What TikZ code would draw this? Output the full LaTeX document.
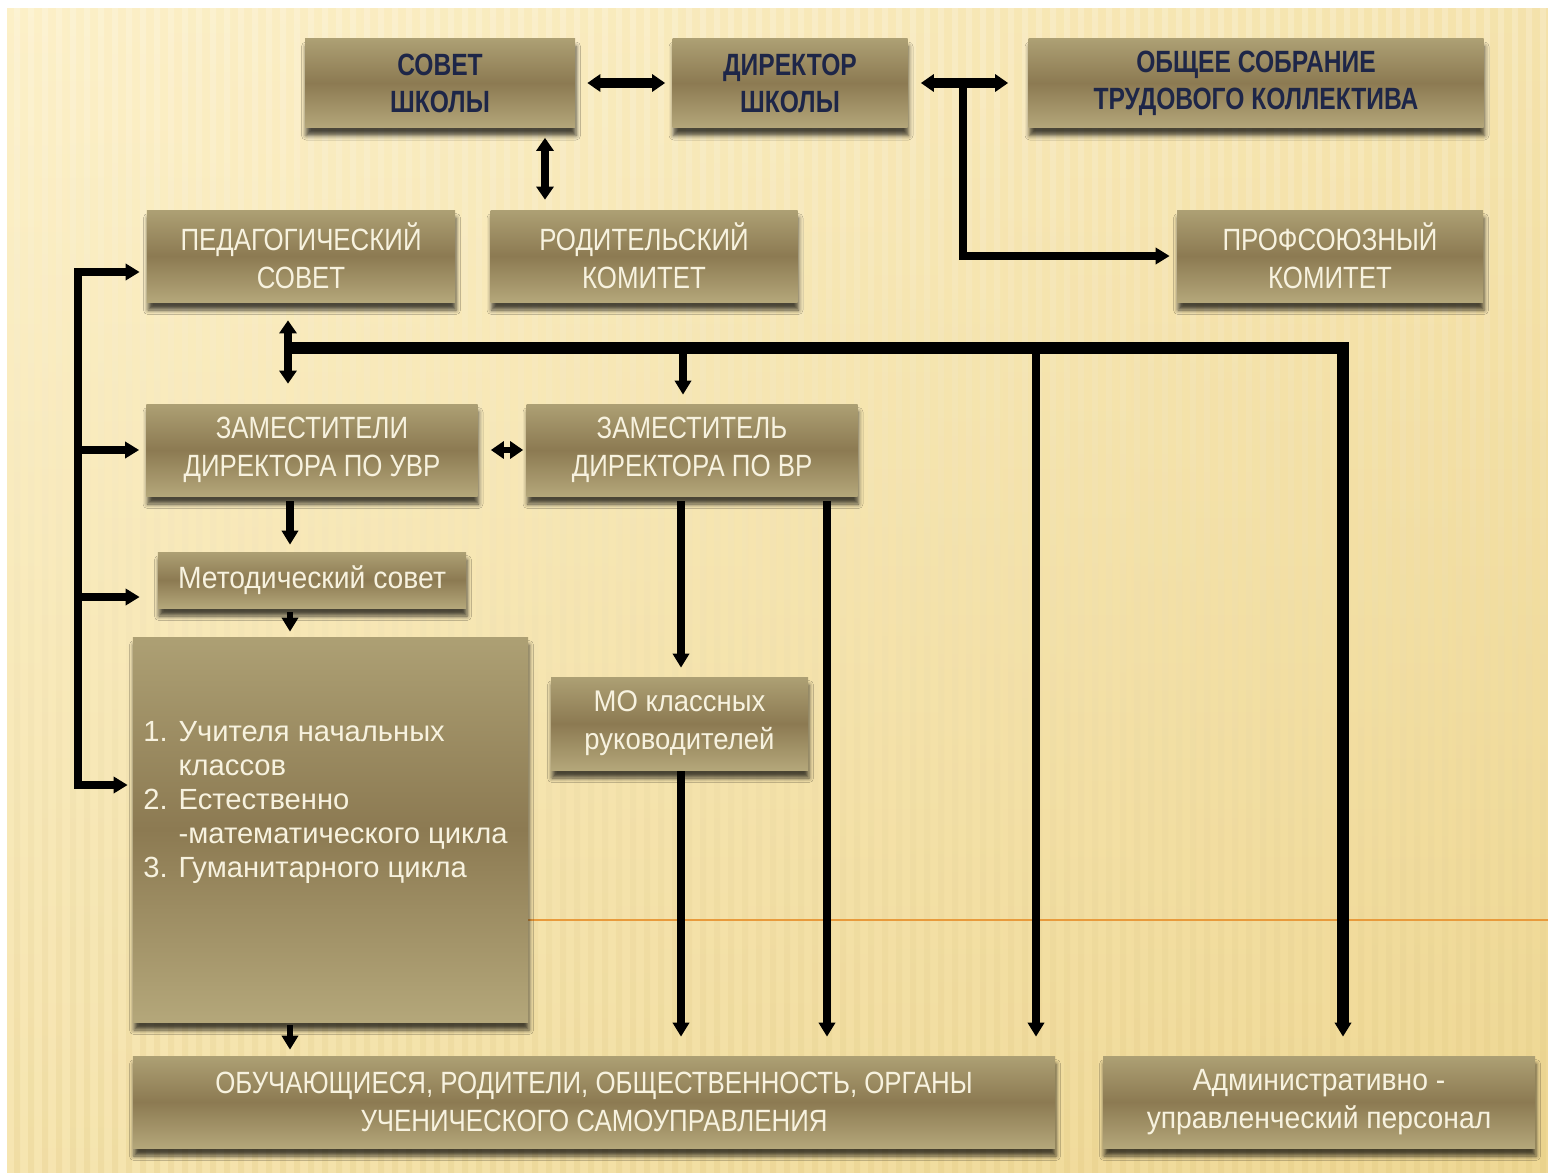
\documentclass[tikz,border=0pt]{standalone}
\usepackage{fontspec}
\setmainfont{Liberation Sans}
\newfontfamily\capsfont[FakeStretch=0.84]{Liberation Sans}
\newfontfamily\boldcaps[FakeStretch=0.8]{Liberation Sans Bold}
\newfontfamily\wordfont[FakeStretch=0.92]{Liberation Sans}
\usetikzlibrary{arrows.meta,shadows.blur,calc}
\definecolor{bgpale}{HTML}{FCF0C8}
\definecolor{bggold}{HTML}{EFD894}
\definecolor{stripe}{HTML}{D9BF72}
\definecolor{boxtop}{HTML}{ADA074}
\definecolor{boxmid}{HTML}{8C7A52}
\definecolor{boxbot}{HTML}{B4A77A}
\definecolor{navy}{HTML}{1E2648}
\definecolor{cream}{HTML}{F7F2DF}
\definecolor{rule}{HTML}{E89A3C}

\tikzset{
  panel/.style = {rectangle, inner sep=0pt, align=center,
                  top color=boxtop, bottom color=boxbot, middle color=boxmid,
                  blur shadow={shadow xshift=0.2mm, shadow yshift=-1.6mm,
                               shadow blur radius=0.9mm, shadow opacity=70}},
  heading/.style = {panel, text=navy, font=\boldcaps\fontsize{17.5}{21}\selectfont},
  office/.style = {panel, text=cream, font=\capsfont\fontsize{17.5}{21.5}\selectfont},
  crowd/.style = {panel, text=cream, font=\capsfont\fontsize{17.5}{21.5}\selectfont},
  link/.style = {line width=4.6pt, draw=black, line cap=rect},
  tip/.style = {link, -{Triangle[length=2.8mm, width=3.2mm]}},
  tips/.style = {link, {Triangle[length=2.6mm, width=3.4mm]}-{Triangle[length=2.6mm, width=3.4mm]}}
}

\begin{document}
\begin{tikzpicture}[x=0.2mm, y=-0.2mm]
  \useasboundingbox (0,0) rectangle (1548,1172);
  % background of the slide
  \fill[white] (0,0) rectangle (1548,1172);
  \shade[left color=bgpale, right color=bggold] (7,8) rectangle (1548,1172);
  \shade[top color=bgpale, bottom color=bggold, opacity=0.45] (7,8) rectangle (1548,1172);
  \foreach \s in {14,28,...,1540}
    \shade[top color=stripe!0, bottom color=stripe, opacity=0.2] (\s,8) rectangle (\s+6,1172);
  \draw[rule, line width=0.8pt] (528,920) -- (1548,920);

  % top row
  \node[heading, minimum width=54mm, minimum height=17.8mm] (sovet) at (440,83) {СОВЕТ\\ШКОЛЫ};
  \node[heading, minimum width=47mm, minimum height=17.8mm] (direktor) at (790,83) {ДИРЕКТОР\\ШКОЛЫ};
  \node[heading, minimum width=91mm, minimum height=17.8mm] (sobranie) at (1256,83) {ОБЩЕЕ СОБРАНИЕ\\ТРУДОВОГО КОЛЛЕКТИВА};

  % councils
  \node[office, minimum width=61.6mm, minimum height=18.4mm] (pedsovet) at (301,256) {ПЕДАГОГИЧЕСКИЙ\\СОВЕТ};
  \node[office, minimum width=61.4mm, minimum height=18.4mm] (rodkom) at (644,256) {РОДИТЕЛЬСКИЙ\\КОМИТЕТ};
  \node[office, minimum width=61.2mm, minimum height=18.4mm] (profkom) at (1330,256) {ПРОФСОЮЗНЫЙ\\КОМИТЕТ};

  % deputies
  \node[office, minimum width=66.2mm, minimum height=18.4mm] (zamuvr) at (312,450) {ЗАМЕСТИТЕЛИ\\ДИРЕКТОРА ПО УВР};
  \node[office, minimum width=66.2mm, minimum height=18.4mm] (zamvr) at (692,450) {ЗАМЕСТИТЕЛЬ\\ДИРЕКТОРА ПО ВР};
  \node[office, font=\wordfont\fontsize{17.5}{21.5}\selectfont,
        minimum width=61.6mm, minimum height=11.2mm] (metod) at (312,580) {Методический совет};
  \node[panel, text=cream, minimum width=79mm, minimum height=77mm,
        font=\fontsize{16.6}{19.3}\selectfont] (groups) at (330.5,829.5)
        {\raisebox{5.4mm}[\height][\depth]{\begin{tabular}{@{}l@{ }l@{}}
          1. & Учителя начальных\\
             & классов\\
          2. & Естественно\\
             & -математического цикла\\
          3. & Гуманитарного цикла
        \end{tabular}}\hspace*{2mm}};
  \node[office, font=\wordfont\fontsize{17}{21.5}\selectfont,
        minimum width=51.4mm, minimum height=18.6mm] (mo) at (679.5,723.5) {МО классных\\руководителей};

  % bottom row
  \node[crowd, minimum width=184.4mm, minimum height=18.4mm] (obuch) at (594,1102)
        {ОБУЧАЮЩИЕСЯ, РОДИТЕЛИ, ОБЩЕСТВЕННОСТЬ, ОРГАНЫ\\УЧЕНИЧЕСКОГО САМОУПРАВЛЕНИЯ};
  \node[crowd, font=\wordfont\fontsize{17.5}{21.5}\selectfont,
        minimum width=86.4mm, minimum height=18.4mm] (admin) at (1319,1102)
        {Административно -\\управленческий персонал};

  % named points of the connectors
  \coordinate (tee) at (963,83);
  \coordinate (sr) at (545,0);
  \coordinate (lb1) at (78,272);
  \coordinate (lb2) at (78,450);
  \coordinate (lb3) at (78,597);
  \coordinate (lb4) at (78,785);
  \coordinate (pz) at (288,348);
  \coordinate (b1) at (683,348);
  \coordinate (b2) at (1036,348);
  \coordinate (b3) at (1343,348);
  \coordinate (c1) at (290,0);
  \coordinate (c2) at (681,0);
  \coordinate (c3) at (827,0);

  % top connectors
  \draw[tips, line width=6pt, shorten <=2.4mm, shorten >=1.4mm] (sovet.east) -- (direktor.west);
  \draw[tips, line width=6pt, shorten <=2.6mm, shorten >=4mm] (direktor.east) -- (sobranie.west);
  \draw[tip, shorten >=1.4mm] (tee) |- (profkom.west);
  \draw[tips, shorten <=2mm, shorten >=2mm] (sovet.south -| sr) -- (rodkom.north -| sr);

  % left spine
  \draw[tip, shorten >=1.4mm] (lb4) -- (lb1) -- (lb1 -| pedsovet.west);
  \draw[tip, shorten >=1.4mm] (lb2) -- (lb2 -| zamuvr.west);
  \draw[tip, shorten >=3.6mm] (lb3) -- (lb3 -| metod.west);
  \draw[tip, shorten >=1mm] (lb4) -- (lb4 -| groups.west);

  % bus under the pedagogical council
  \draw[tips, shorten <=3.6mm, shorten >=4mm] (pedsovet.south -| pz) -- (zamuvr.north -| pz);
  \draw[tip, line width=6.5pt, line cap=butt, shorten >=3.8mm] (pz) -- (b3) -- (b3 |- admin.north);
  \draw[tip, shorten >=3.8mm] (b2) -- (b2 |- obuch.north);
  \draw[tip, shorten >=1.8mm] (b1) -- (b1 |- zamvr.north);

  % deputies and below
  \draw[tips, line width=3.8pt, shorten <=2.6mm, shorten >=0.6mm] (zamuvr.east) -- (zamvr.west);
  \draw[tip, shorten <=1.8mm, shorten >=1.4mm] (zamuvr.south -| c1) -- (metod.north -| c1);
  \draw[tip, line width=3.6pt, shorten <=1.4mm, shorten >=1mm] (metod.south -| c1) -- (groups.north -| c1);
  \draw[tip, line width=3.6pt, shorten <=1.2mm, shorten >=1.2mm] (groups.south -| c1) -- (obuch.north -| c1);
  \draw[tip, shorten <=1.8mm, shorten >=1.8mm] (zamvr.south -| c2) -- (mo.north -| c2);
  \draw[tip, shorten <=1mm, shorten >=3.8mm] (mo.south -| c2) -- (obuch.north -| c2);
  \draw[tip, shorten <=1.8mm, shorten >=3.8mm] (zamvr.south -| c3) -- (obuch.north -| c3);
\end{tikzpicture}
\end{document}
